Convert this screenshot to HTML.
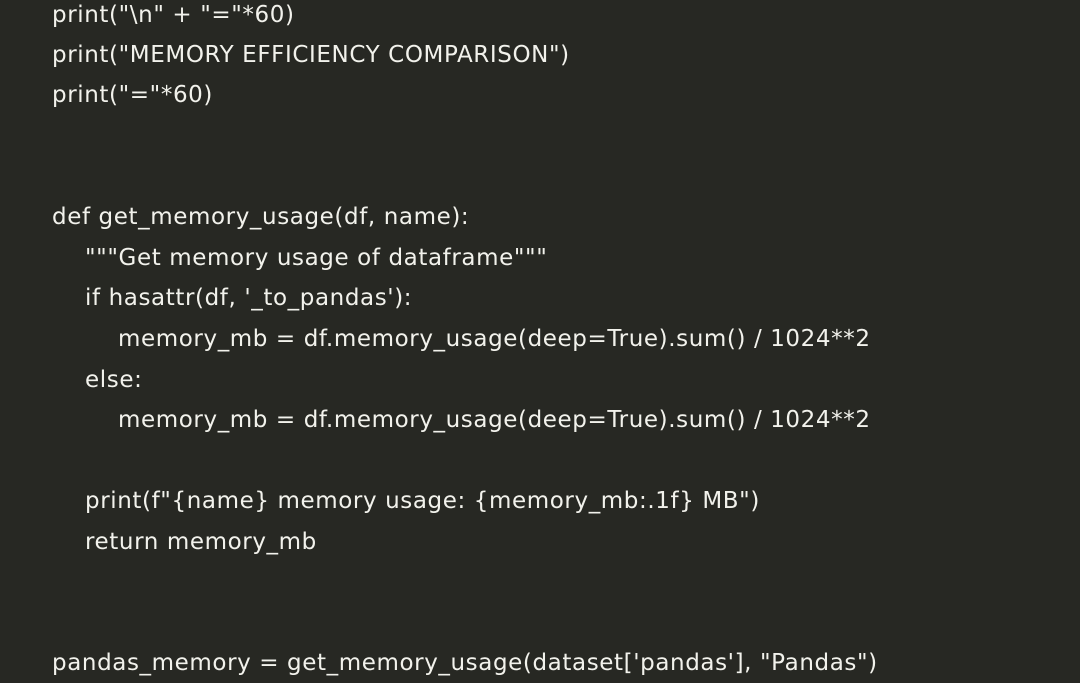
<!DOCTYPE html>
<html><head><meta charset="utf-8"><style>
html,body{margin:0;padding:0;width:1080px;height:675px;overflow:hidden;background:#272823;}
.l{position:absolute;left:52px;white-space:pre;font-family:"DejaVu Sans","Liberation Sans",sans-serif;font-size:23px;letter-spacing:0.6px;line-height:40px;color:#f2f2ec;}
.i1{left:85px}.i2{left:118px}
</style></head><body>
<div class="l" style="top:-5px">print("\n" + "="*60)</div>
<div class="l" style="top:35px">print("MEMORY EFFICIENCY COMPARISON")</div>
<div class="l" style="top:75px">print("="*60)</div>
<div class="l" style="top:197px">def get_memory_usage(df, name):</div>
<div class="l i1" style="top:238px">"""Get memory usage of dataframe"""</div>
<div class="l i1" style="top:278px">if hasattr(df, '_to_pandas'):</div>
<div class="l i2" style="top:319px">memory_mb = df.memory_usage(deep=True).sum() / 1024**2</div>
<div class="l i1" style="top:360px">else:</div>
<div class="l i2" style="top:400px">memory_mb = df.memory_usage(deep=True).sum() / 1024**2</div>
<div class="l i1" style="top:481px">print(f"{name} memory usage: {memory_mb:.1f} MB")</div>
<div class="l i1" style="top:522px">return memory_mb</div>
<div class="l" style="top:643px">pandas_memory = get_memory_usage(dataset['pandas'], "Pandas")</div>
</body></html>
